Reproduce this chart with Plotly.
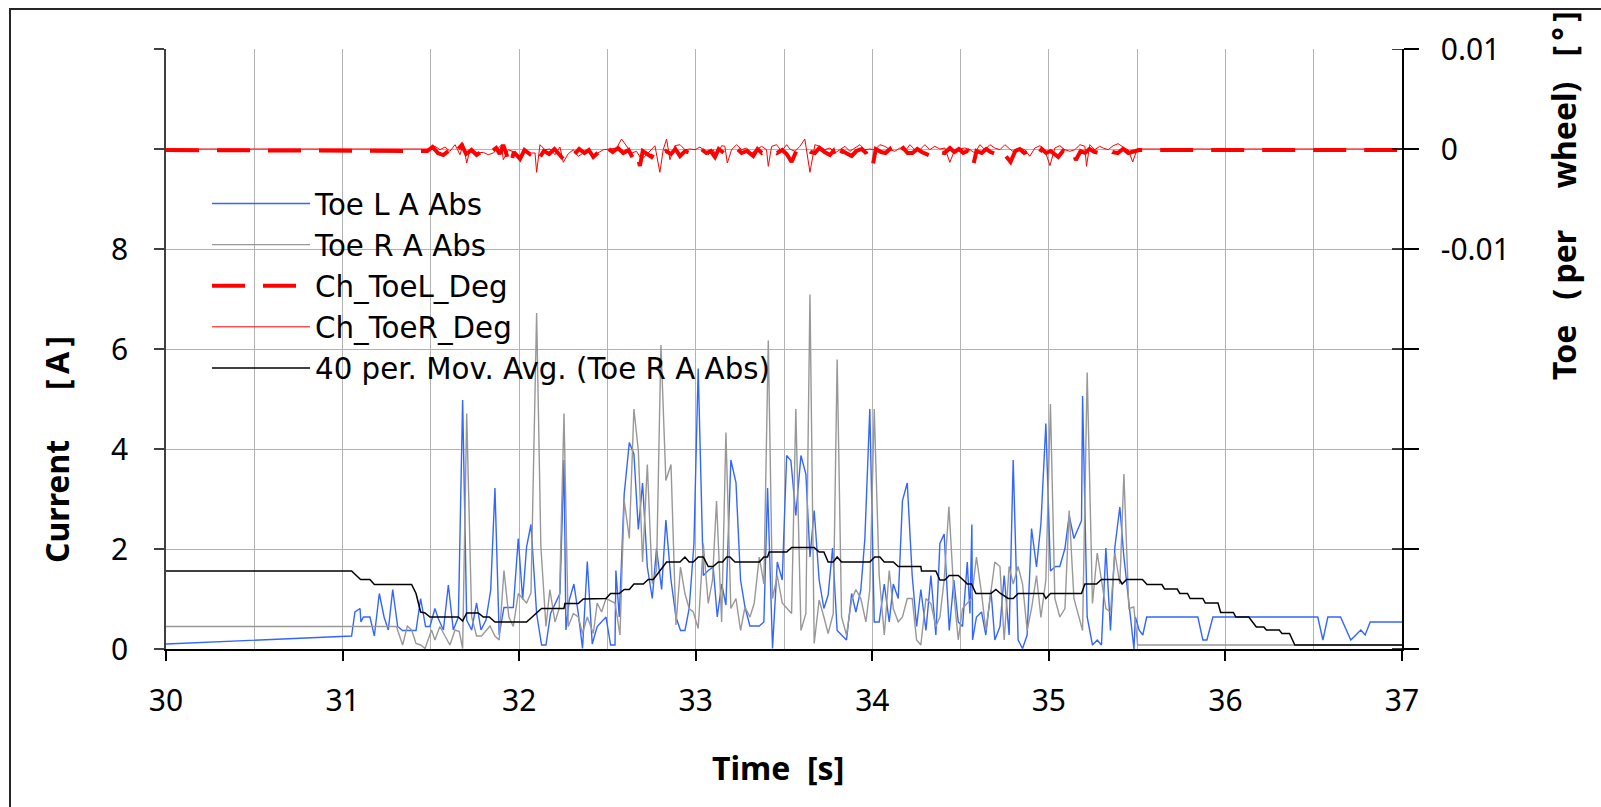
import plotly.graph_objects as go

# ---------------- data ----------------
# Toe L A Abs  [A]
TOE_L_A_T = [30.000, 31.051, 31.070, 31.099, 31.104, 31.118, 31.155, 31.180, 31.208, 31.235,
             31.259, 31.284, 31.312, 31.340, 31.416, 31.442, 31.470, 31.495, 31.523, 31.542,
             31.571, 31.599, 31.627, 31.656, 31.680, 31.703, 31.731, 31.759, 31.784, 31.812,
             31.839, 31.863, 31.887, 31.914, 31.967, 31.995, 32.020, 32.042, 32.067, 32.099,
             32.127, 32.152, 32.178, 32.205, 32.231, 32.254, 32.265, 32.284, 32.310, 32.335,
             32.359, 32.386, 32.414, 32.442, 32.492, 32.518, 32.543, 32.548, 32.567, 32.595,
             32.624, 32.650, 32.675, 32.699, 32.726, 32.754, 32.778, 32.807, 32.831, 32.860,
             32.888, 32.914, 32.939, 32.963, 32.990, 33.014, 33.043, 33.071, 33.099, 33.122,
             33.147, 33.171, 33.199, 33.228, 33.254, 33.279, 33.307, 33.360, 33.386, 33.407,
             33.435, 33.462, 33.490, 33.515, 33.539, 33.567, 33.596, 33.624, 33.647, 33.671,
             33.699, 33.726, 33.750, 33.775, 33.801, 33.854, 33.883, 33.907, 33.935, 33.958,
             33.986, 34.011, 34.039, 34.068, 34.096, 34.119, 34.147, 34.171, 34.198, 34.226,
             34.251, 34.275, 34.304, 34.332, 34.360, 34.383, 34.407, 34.436, 34.462, 34.487,
             34.511, 34.538, 34.553, 34.564, 34.568, 34.590, 34.619, 34.643, 34.672, 34.694,
             34.723, 34.747, 34.775, 34.798, 34.826, 34.851, 34.877, 34.902, 34.930, 34.955,
             34.983, 35.009, 35.038, 35.062, 35.091, 35.115, 35.142, 35.185, 35.191, 35.217,
             35.247, 35.274, 35.298, 35.323, 35.349, 35.374, 35.402, 35.425, 35.453, 35.482,
             35.490, 35.511, 35.532, 35.554, 35.844, 35.872, 35.895, 35.929, 36.523, 36.552,
             36.580, 36.652, 36.710, 36.767, 36.791, 36.820, 37.000]
TOE_L_A = [0.10, 0.26, 0.74, 0.81, 0.54, 0.64, 0.64, 0.26, 1.11, 0.64,
           0.38, 1.19, 0.45, 0.37, 0.37, 1.01, 0.45, 0.45, 0.81, 0.61,
           0.38, 1.28, 0.38, 0.64, 4.98, 0.58, 0.38, 0.92, 0.38, 0.58,
           1.18, 3.22, 0.28, 0.83, 0.83, 2.21, 0.99, 2.04, 2.49, 0.71,
           0.08, 0.08, 0.71, 0.92, 1.11, 3.78, 0.38, 0.98, 1.30, 0.71,
           0.01, 1.75, 0.10, 0.45, 0.64, 0.08, 0.08, 1.57, 0.64, 3.10,
           4.13, 3.90, 2.39, 3.32, 1.64, 1.01, 2.01, 1.19, 2.58, 1.38,
           0.64, 0.37, 0.37, 0.81, 2.11, 5.61, 1.47, 1.57, 1.64, 0.64,
           1.30, 0.88, 3.78, 3.33, 1.38, 0.84, 0.46, 0.46, 0.54, 3.22,
           0.01, 1.74, 1.38, 3.87, 3.77, 2.67, 3.87, 3.50, 1.84, 2.77,
           1.38, 0.81, 1.08, 2.02, 0.37, 0.18, 1.11, 0.74, 1.18, 2.21,
           4.80, 0.54, 0.54, 1.30, 0.54, 1.30, 1.01, 2.97, 3.32, 1.47,
           0.45, 1.19, 0.37, 1.47, 0.28, 2.11, 2.30, 0.37, 1.38, 0.54,
           0.45, 1.74, 0.71, 2.49, 0.18, 0.64, 0.74, 0.28, 1.18, 0.18,
           0.45, 1.47, 0.28, 3.78, 0.18, 0.01, 0.28, 2.41, 1.64, 2.50,
           4.51, 1.56, 1.65, 1.65, 2.01, 2.67, 2.21, 2.57, 5.06, 0.64,
           0.08, 0.18, 0.08, 2.02, 0.37, 2.04, 2.84, 1.84, 0.98, 0.00,
           0.64, 0.38, 0.28, 0.64, 0.64, 0.18, 0.18, 0.64, 0.64, 0.18,
           0.64, 0.64, 0.18, 0.38, 0.28, 0.54, 0.54]

# Toe R A Abs  [A]
TOE_R_A_T = [30.000, 31.305, 31.340, 31.367, 31.391, 31.416, 31.442, 31.467, 31.504, 31.523,
             31.551, 31.580, 31.608, 31.637, 31.661, 31.680, 31.703, 31.731, 31.759, 31.787,
             31.835, 31.863, 31.887, 31.914, 31.942, 31.967, 31.995, 32.042, 32.067, 32.099,
             32.123, 32.152, 32.174, 32.203, 32.227, 32.254, 32.278, 32.307, 32.335, 32.359,
             32.386, 32.420, 32.442, 32.467, 32.492, 32.543, 32.571, 32.595, 32.624, 32.650,
             32.675, 32.699, 32.726, 32.754, 32.778, 32.803, 32.831, 32.860, 32.888, 32.914,
             32.939, 32.963, 32.986, 33.014, 33.043, 33.071, 33.095, 33.118, 33.147, 33.171,
             33.199, 33.228, 33.254, 33.279, 33.307, 33.331, 33.360, 33.386, 33.411, 33.435,
             33.462, 33.490, 33.543, 33.567, 33.596, 33.624, 33.647, 33.671, 33.699, 33.726,
             33.750, 33.779, 33.801, 33.826, 33.854, 33.883, 33.907, 33.935, 33.964, 33.986,
             34.011, 34.039, 34.068, 34.096, 34.119, 34.147, 34.171, 34.198, 34.226, 34.251,
             34.275, 34.304, 34.332, 34.360, 34.383, 34.407, 34.434, 34.462, 34.487, 34.511,
             34.538, 34.562, 34.590, 34.619, 34.643, 34.672, 34.694, 34.723, 34.747, 34.775,
             34.798, 34.826, 34.851, 34.877, 34.902, 34.930, 34.955, 34.983, 35.009, 35.034,
             35.062, 35.091, 35.115, 35.142, 35.191, 35.217, 35.247, 35.274, 35.298, 35.323,
             35.349, 35.374, 35.402, 35.425, 35.453, 35.481, 35.503, 37.000]
TOE_R_A = [0.45, 0.45, 0.08, 0.46, 0.38, 0.11, 0.08, 0.01, 0.38, 0.18,
           0.45, 0.25, 0.08, 0.38, 0.35, 0.01, 4.71, 0.64, 0.26, 0.26,
           0.46, 0.26, 0.18, 1.57, 0.64, 0.45, 1.11, 0.92, 1.12, 6.72,
           2.05, 0.45, 1.19, 0.54, 0.81, 4.71, 0.45, 0.71, 0.64, 0.31,
           0.64, 0.31, 0.92, 0.74, 1.01, 0.92, 0.28, 2.97, 2.21, 4.80,
           3.97, 1.74, 3.69, 1.31, 1.57, 6.08, 3.37, 3.69, 0.48, 1.64,
           1.11, 0.81, 0.74, 0.41, 2.11, 0.91, 1.38, 2.96, 0.54, 4.33,
           0.81, 1.01, 0.37, 0.84, 0.64, 0.91, 1.84, 1.30, 6.17, 1.01,
           1.47, 0.92, 0.71, 4.80, 0.37, 0.71, 7.09, 0.11, 0.98, 0.64,
           0.31, 0.71, 5.79, 0.64, 0.28, 0.98, 1.19, 1.01, 0.54, 1.19,
           4.80, 1.47, 0.28, 1.57, 0.81, 0.54, 0.64, 1.01, 1.01, 0.18,
           0.08, 1.01, 0.91, 0.45, 0.64, 1.38, 2.85, 1.11, 0.18, 0.81,
           0.92, 1.01, 1.84, 1.11, 0.37, 1.19, 1.74, 1.65, 0.18, 1.65,
           1.30, 1.65, 1.30, 0.37, 0.81, 1.47, 0.63, 1.38, 4.90, 1.01,
           0.64, 0.81, 2.77, 1.01, 0.37, 5.53, 0.91, 1.92, 1.38, 0.81,
           0.74, 1.92, 1.30, 3.50, 0.81, 0.84, 0.08, 0.08]

# 40 per. moving average of Toe R A Abs  [A]
MOV_AVG_T = [30.000, 31.051, 31.102, 31.155, 31.180, 31.391, 31.416, 31.442, 31.467, 31.495,
             31.656, 31.680, 31.703, 31.769, 31.797, 31.831, 31.863, 32.042, 32.127, 32.254,
             32.259, 32.335, 32.363, 32.492, 32.518, 32.567, 32.595, 32.624, 32.650, 32.703,
             32.731, 32.760, 32.835, 32.911, 32.939, 32.963, 32.986, 33.014, 33.043, 33.071,
             33.099, 33.128, 33.152, 33.175, 33.194, 33.222, 33.360, 33.386, 33.407, 33.416,
             33.515, 33.543, 33.671, 33.699, 33.726, 33.750, 33.779, 33.801, 33.826, 33.986,
             34.014, 34.043, 34.068, 34.119, 34.147, 34.275, 34.279, 34.360, 34.383, 34.411,
             34.436, 34.487, 34.515, 34.538, 34.562, 34.587, 34.672, 34.700, 34.726, 34.770,
             34.798, 34.826, 34.968, 34.983, 35.009, 35.185, 35.204, 35.270, 35.298, 35.400,
             35.415, 35.440, 35.530, 35.556, 35.640, 35.655, 35.727, 35.742, 35.785, 35.800,
             35.872, 35.886, 35.958, 35.973, 36.045, 36.059, 36.132, 36.175, 36.218, 36.232,
             36.305, 36.320, 36.363, 36.393, 37.000]
MOV_AVG = [1.56, 1.56, 1.39, 1.39, 1.29, 1.29, 1.11, 0.74, 0.72, 0.64,
           0.64, 0.56, 0.72, 0.72, 0.64, 0.64, 0.54, 0.54, 0.81, 0.81,
           0.91, 0.91, 1.00, 1.01, 1.11, 1.11, 1.19, 1.19, 1.30, 1.30,
           1.39, 1.39, 1.74, 1.74, 1.84, 1.74, 1.74, 1.84, 1.84, 1.65,
           1.65, 1.74, 1.74, 1.84, 1.84, 1.74, 1.74, 1.84, 1.84, 1.94,
           1.94, 2.03, 2.03, 1.94, 1.94, 1.74, 1.74, 1.84, 1.74, 1.74,
           1.84, 1.84, 1.74, 1.74, 1.65, 1.65, 1.56, 1.56, 1.38, 1.38,
           1.47, 1.47, 1.38, 1.30, 1.30, 1.11, 1.11, 1.19, 1.11, 1.01,
           1.01, 1.11, 1.11, 1.01, 1.11, 1.11, 1.30, 1.30, 1.39, 1.39,
           1.30, 1.39, 1.39, 1.29, 1.29, 1.20, 1.20, 1.11, 1.11, 1.01,
           1.01, 0.92, 0.92, 0.73, 0.73, 0.64, 0.64, 0.44, 0.44, 0.38,
           0.38, 0.31, 0.31, 0.08, 0.08]

# Ch_ToeL_Deg  [deg]
TOE_L_DEG_T = [30.000, 31.450, 31.480, 31.510, 31.540, 31.570, 31.600, 31.637, 31.655, 31.675,
               31.700, 31.730, 31.759, 31.790, 31.816, 31.840, 31.870, 31.890, 31.910, 31.930,
               31.948, 31.970, 32.005, 32.030, 32.060, 32.090, 32.118, 32.140, 32.170, 32.200,
               32.225, 32.250, 32.280, 32.310, 32.340, 32.370, 32.395, 32.420, 32.450, 32.477,
               32.500, 32.530, 32.560, 32.590, 32.620, 32.646, 32.665, 32.684, 32.700, 32.730,
               32.750, 32.780, 32.800, 32.830, 32.860, 32.885, 32.911, 32.940, 32.970, 33.005,
               33.030, 33.060, 33.085, 33.109, 33.130, 33.150, 33.175, 33.200, 33.230, 33.260,
               33.290, 33.326, 33.350, 33.375, 33.401, 33.430, 33.460, 33.490, 33.515, 33.543,
               33.570, 33.600, 33.625, 33.650, 33.675, 33.700, 33.730, 33.760, 33.780, 33.801,
               33.830, 33.855, 33.883, 33.910, 33.940, 33.965, 34.001, 34.020, 34.050, 34.075,
               34.100, 34.122, 34.150, 34.175, 34.200, 34.228, 34.255, 34.280, 34.305, 34.330,
               34.360, 34.385, 34.410, 34.440, 34.465, 34.490, 34.515, 34.540, 34.571, 34.590,
               34.620, 34.645, 34.670, 34.700, 34.725, 34.750, 34.783, 34.810, 34.835, 34.860,
               34.885, 34.910, 34.930, 34.960, 34.985, 35.010, 35.030, 35.053, 35.080, 35.105,
               35.130, 35.153, 35.180, 35.205, 35.230, 35.260, 35.285, 35.308, 35.335, 35.360,
               35.390, 35.420, 35.450, 35.480, 35.510, 37.000]
TOE_L_DEG = [-0.0001, -0.0001, -0.0002, 0.0002, -0.0004, -0.0006, -0.0002, -0.0008, 0.0000, 0.0004,
             -0.0005, -0.0001, -0.0006, -0.0002, -0.0007, -0.0003, 0.0001, -0.0005, 0.0004, -0.0006,
             -0.0017, -0.0003, -0.0010, -0.0001, -0.0005, 0.0001, -0.0008, -0.0002, -0.0005, 0.0000,
             -0.0005, -0.0010, -0.0002, -0.0006, 0.0000, -0.0004, -0.0001, -0.0008, -0.0003, -0.0007,
             0.0001, -0.0003, 0.0001, -0.0004, -0.0001, -0.0010, -0.0004, -0.0017, -0.0002, -0.0005,
             -0.0008, 0.0000, -0.0005, -0.0002, -0.0005, 0.0000, -0.0007, -0.0002, -0.0004, -0.0007,
             0.0000, -0.0004, -0.0002, -0.0008, 0.0000, -0.0003, -0.0006, -0.0002, 0.0001, -0.0004,
             -0.0002, -0.0007, 0.0000, -0.0004, -0.0002, 0.0001, -0.0004, -0.0001, -0.0005, -0.0013,
             -0.0002, -0.0005, 0.0000, -0.0003, -0.0004, 0.0001, -0.0003, -0.0006, -0.0002, -0.0013,
             -0.0002, -0.0004, -0.0007, -0.0002, 0.0000, -0.0004, -0.0018, 0.0000, -0.0003, -0.0004,
             0.0000, -0.0008, -0.0002, 0.0001, -0.0004, -0.0004, 0.0000, -0.0003, -0.0005, -0.0007,
             0.0000, -0.0003, -0.0004, 0.0001, -0.0003, 0.0000, -0.0004, -0.0002, -0.0017, -0.0002,
             -0.0004, 0.0000, -0.0003, -0.0005, 0.0000, -0.0005, -0.0013, -0.0002, 0.0000, -0.0004,
             -0.0002, -0.0005, -0.0008, 0.0000, -0.0004, -0.0002, -0.0005, -0.0008, -0.0002, -0.0004,
             0.0000, -0.0011, -0.0002, -0.0004, 0.0000, -0.0003, -0.0004, -0.0005, 0.0000, -0.0003,
             -0.0004, 0.0000, -0.0004, -0.0002, -0.0001, -0.0001]

# Ch_ToeR_Deg  [deg]
TOE_R_DEG_T = [30.000, 31.495, 31.523, 31.552, 31.580, 31.608, 31.637, 31.665, 31.684, 31.703,
               31.722, 31.759, 31.797, 31.825, 31.854, 31.882, 31.901, 31.910, 31.939, 31.976,
               32.005, 32.033, 32.061, 32.090, 32.099, 32.118, 32.146, 32.175, 32.203, 32.231,
               32.250, 32.278, 32.307, 32.335, 32.363, 32.392, 32.420, 32.448, 32.477, 32.514,
               32.552, 32.580, 32.609, 32.637, 32.665, 32.694, 32.722, 32.750, 32.769, 32.797,
               32.816, 32.835, 32.854, 32.882, 32.911, 32.939, 32.967, 32.996, 33.024, 33.043,
               33.071, 33.099, 33.118, 33.147, 33.165, 33.179, 33.203, 33.231, 33.260, 33.288,
               33.316, 33.345, 33.373, 33.401, 33.411, 33.430, 33.458, 33.486, 33.515, 33.533,
               33.562, 33.590, 33.618, 33.647, 33.675, 33.703, 33.732, 33.760, 33.788, 33.817,
               33.845, 33.873, 33.901, 33.930, 33.958, 33.986, 34.015, 34.043, 34.071, 34.100,
               34.128, 34.156, 34.185, 34.213, 34.241, 34.270, 34.298, 34.326, 34.354, 34.383,
               34.411, 34.439, 34.468, 34.496, 34.524, 34.553, 34.581, 34.609, 34.638, 34.666,
               34.694, 34.723, 34.751, 34.779, 34.807, 34.836, 34.864, 34.892, 34.921, 34.949,
               34.977, 35.006, 35.034, 35.062, 35.090, 35.119, 35.147, 35.176, 35.204, 35.213,
               35.232, 35.260, 35.288, 35.307, 35.336, 35.364, 35.392, 35.420, 35.450, 35.475,
               35.500, 37.000]
TOE_R_DEG = [0.0000, 0.0000, 0.00027, -0.00007, 0.0002, -0.00023, 0.00043, -0.00057, 0.00053, -0.0014,
             -0.00007, -0.0004, -0.00033, -0.00057, -0.0004, 0.0001, 0.00043, -0.00107, -0.00007, -0.00033,
             -0.00073, -0.00007, -0.0004, -0.0004, -0.00233, 0.00043, -0.00007, 0.0000, -0.00057, 0.0002,
             -0.00133, -0.00047, -0.00007, -0.00073, -0.0004, -0.00007, -0.00067, -0.0004, -0.00007, 0.0000,
             0.0001, 0.0010, 0.00027, -0.0004, -0.00023, -0.00107, -0.00057, -0.00007, 0.00033, -0.00233,
             -0.00007, 0.0010, -0.00107, 0.00033, 0.00043, -0.00007, 0.0000, -0.00007, 0.0002, -0.00007,
             -0.00057, -0.00007, -0.00073, 0.00033, 0.00027, -0.0014, -0.00007, 0.00043, -0.00007, 0.0001,
             -0.0004, -0.00007, 0.00027, -0.00007, -0.00173, 0.00027, 0.00043, -0.00023, 0.00043, 0.0000,
             -0.00023, 0.00027, 0.0010, -0.00233, 0.00043, 0.00027, -0.00007, 0.0001, -0.0004, -0.00007,
             0.00027, -0.00023, 0.0001, 0.00043, -0.00007, 0.0000, -0.00007, 0.00043, 0.00027, -0.00007,
             -0.00023, 0.0001, -0.00023, 0.00043, -0.00007, -0.00007, 0.00043, -0.00007, 0.00027, 0.0000,
             0.0001, -0.00133, -0.00007, 0.0000, 0.0001, -0.00007, -0.0004, 0.00043, -0.00007, 0.00043,
             0.0001, -0.00007, 0.00043, 0.0000, -0.0004, 0.0001, -0.00007, -0.00073, 0.0001, 0.00033,
             -0.00007, -0.00167, 0.0001, 0.00033, -0.00007, -0.00023, -0.00007, 0.00043, 0.00027, -0.00173,
             0.00043, -0.00007, 0.00027, 0.0001, -0.00007, 0.00033, 0.00053, 0.0002, -0.0001, -0.0013,
             0.0000, 0.0000]

# axis ticks
X_TICKS = [30, 31, 32, 33, 34, 35, 36, 37]
Y_TICKS = [0, 2, 4, 6, 8, 10, 12]
Y_TICK_TEXT = ["0", "2", "4", "6", "8", "", ""]
Y2_TICKS = [-0.05, -0.04, -0.03, -0.02, -0.01, 0.0, 0.01]
Y2_TICK_TEXT = ["", "", "", "", "-0.01", "0", "0.01"]

# ---------------- figure ----------------
W, H = 1601, 807
ML, MR, MT, MB = 166, 199, 49, 158
PW, PH = W - ML - MR, H - MT - MB


def px_x(x):
    return (x - ML) / PW


def px_y(y):
    return (H - MB - y) / PH


FONT = "Noto Sans"
LEGEND_FONT = "DejaVu Sans"
GRID = "#B2B2B2"
NB = "\u00a0"
TH = "\u2009"

fig = go.Figure()
fig.add_trace(go.Scatter(x=TOE_L_A_T, y=TOE_L_A, name="Toe L A Abs", mode="lines",
                         line=dict(color="#3366FF", width=1.4), yaxis="y"))
fig.add_trace(go.Scatter(x=TOE_R_A_T, y=TOE_R_A, name="Toe R A Abs", mode="lines",
                         line=dict(color="#989898", width=1.4), yaxis="y"))
fig.add_trace(go.Scatter(x=TOE_L_DEG_T, y=TOE_L_DEG, name="Ch_ToeL_Deg", mode="lines",
                         line=dict(color="#FF0000", width=4, dash="33px,18px"), yaxis="y2"))
fig.add_trace(go.Scatter(x=TOE_R_DEG_T, y=TOE_R_DEG, name="Ch_ToeR_Deg", mode="lines",
                         line=dict(color="#FF0000", width=1), yaxis="y2"))
fig.add_trace(go.Scatter(x=MOV_AVG_T, y=MOV_AVG, name="40 per. Mov. Avg. (Toe R A Abs)", mode="lines",
                         line=dict(color="#000000", width=1.5), yaxis="y"))

# short inner tick marks on the secondary axis (ticks cross the axis line)
inner_ticks = [dict(type="line", xref="paper", yref="y2", x0=px_x(1392), x1=1.0,
                    y0=v, y1=v, line=dict(color="#000000", width=1.5), layer="above")
               for v in Y2_TICKS]

fig.update_layout(
    width=W, height=H,
    margin=dict(l=ML, r=MR, t=MT, b=MB, autoexpand=False),
    paper_bgcolor="white", plot_bgcolor="white",
    font=dict(family=FONT, size=30, color="black"),
    showlegend=True,
    legend=dict(x=px_x(207), y=px_y(178), xanchor="left", yanchor="top",
                bgcolor="rgba(0,0,0,0)", borderwidth=0, itemwidth=98,
                font=dict(family=LEGEND_FONT, size=29.3, color="black"),
                tracegroupgap=0, traceorder="normal"),
    xaxis=dict(range=[30, 37], tickvals=X_TICKS, ticks="outside", ticklen=10,
               tickwidth=1.5, tickcolor="#000000", showline=True, linecolor="#000000",
               linewidth=2, showgrid=True, gridcolor=GRID, gridwidth=1.3,
               minor=dict(dtick=0.5, tick0=30, showgrid=True, gridcolor=GRID, gridwidth=1.3),
               zeroline=False, tickfont=dict(family=FONT, size=30), ticklabelstandoff=14),
    yaxis=dict(range=[0, 12], tickvals=Y_TICKS, ticktext=Y_TICK_TEXT, ticks="outside",
               ticklen=10, tickwidth=1.5, tickcolor="#404040", showline=True,
               linecolor="#404040", linewidth=1.5, showgrid=True, gridcolor=GRID,
               gridwidth=1.3, zeroline=False, tickfont=dict(family=FONT, size=30),
               ticklabelstandoff=20),
    yaxis2=dict(range=[-0.05, 0.01], overlaying="y", side="right", tickvals=Y2_TICKS,
                ticktext=Y2_TICK_TEXT, ticks="outside", ticklen=15, tickwidth=1.5,
                tickcolor="#000000", showline=True, linecolor="#000000", linewidth=1.5,
                showgrid=False, zeroline=False, tickfont=dict(family=FONT, size=30),
                ticklabelstandoff=16),
    shapes=[
        # outer chart frame
        dict(type="rect", xref="paper", yref="paper", x0=px_x(10), x1=px_x(1640),
             y0=px_y(850), y1=px_y(9), line=dict(color="#262626", width=2),
             fillcolor="rgba(0,0,0,0)", layer="below"),
        # legend backdrop hides the gridlines behind the key
        dict(type="rect", xref="paper", yref="paper", x0=px_x(184), x1=px_x(860),
             y0=px_y(385), y1=px_y(182), line=dict(width=0), fillcolor="white",
             layer="between"),
    ] + inner_ticks,
    annotations=[
        dict(text=f"<b>Current{NB * 6}[{TH}A{TH}]</b>", xref="paper", yref="paper",
             x=px_x(56), y=px_y(450), textangle=-90, showarrow=False,
             xanchor="center", yanchor="middle", font=dict(family=FONT, size=32)),
        dict(text=f"<b>Time{NB * 2}[s]</b>", xref="paper", yref="paper",
             x=px_x(778), y=px_y(767), showarrow=False,
             xanchor="center", yanchor="middle", font=dict(family=FONT, size=32)),
        dict(text=f"<b>Toe{NB * 3}({TH}per{NB * 5}wheel){NB * 3}[{TH}°{TH}]</b>",
             xref="paper", yref="paper", x=px_x(1563), y=px_y(196), textangle=-90,
             showarrow=False, xanchor="center", yanchor="middle",
             font=dict(family=FONT, size=32)),
    ],
)

fig.write_html("out.html")
